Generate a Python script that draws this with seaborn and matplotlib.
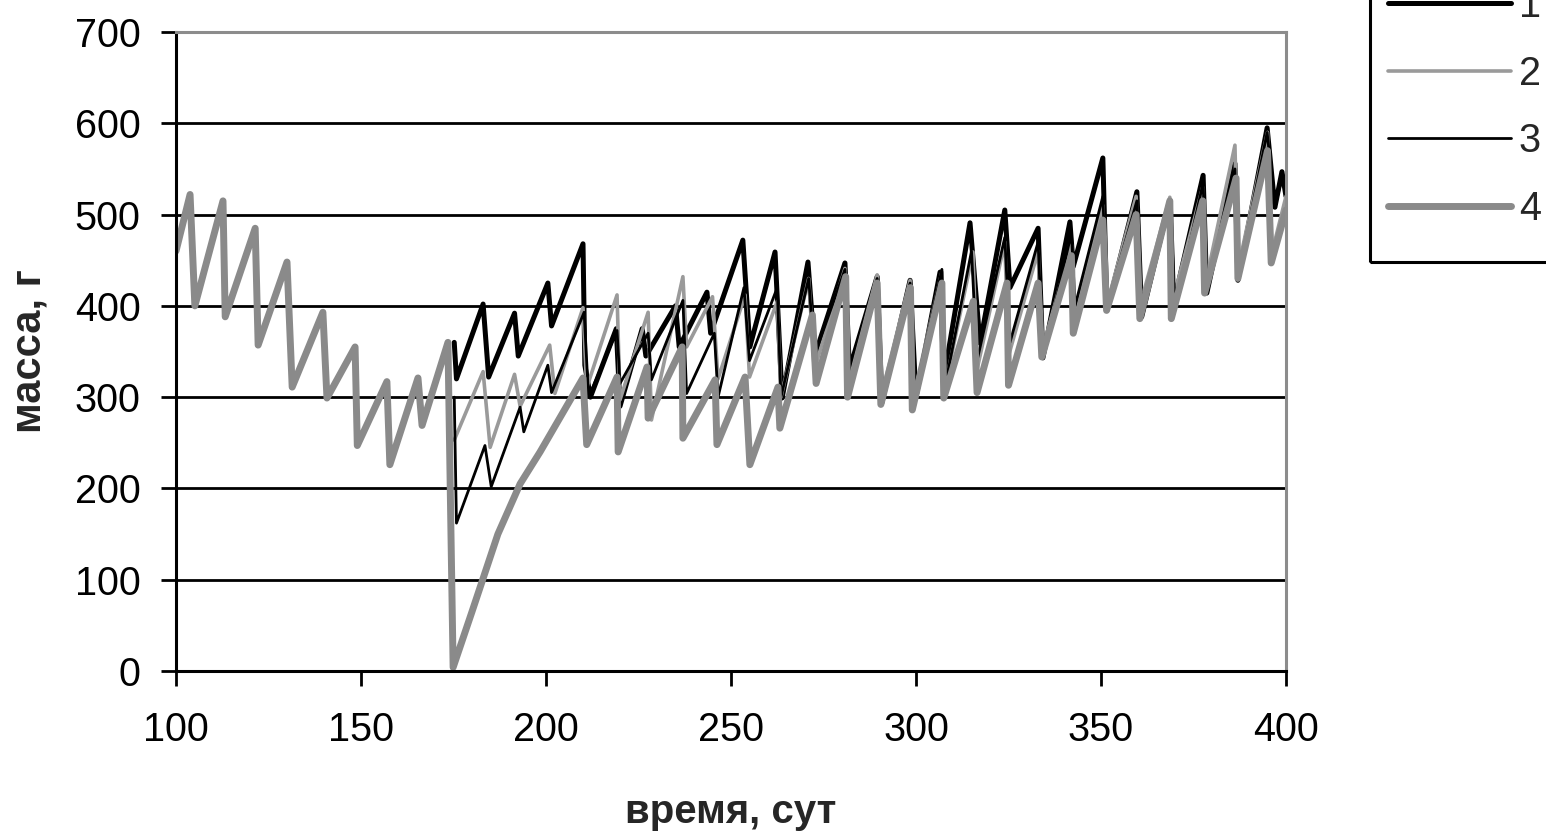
import matplotlib
matplotlib.use("Agg")
import matplotlib.pyplot as plt
from matplotlib.patches import Rectangle
import seaborn as sns
import pandas as pd

# ---------------- data (vertices) ----------------
t1 = [175.2, 175.8, 183, 184.5, 191.5, 192.5, 200.5, 201.5, 210, 210.5, 212, 219, 220, 226, 227,
      235, 236, 243.5, 244.5, 253.2, 255.1, 261.9, 263.8, 270.8, 272.7, 280.8, 282, 289.5, 290.8,
      298.4, 300, 306.5, 307.5, 314.6, 317.3, 324, 325.4, 333, 334.3, 341.6, 342.5, 350.5, 351.6,
      359.7, 361, 368.6, 369.5, 377.6, 378.6, 386.2, 387, 394.9, 397, 398.9, 400]
m1 = [360, 320, 402, 322, 392, 345, 425, 378, 468, 335, 300, 375, 290, 375, 345,
      400, 355, 415, 370, 472, 355, 459, 299, 448, 346, 447, 330, 432, 294,
      428, 300, 437, 320, 491, 359, 505, 420, 485, 343, 492, 443, 562, 395,
      525, 388, 515, 400, 543, 414, 556, 428, 595, 508, 547, 520]

t2 = [175.2, 183, 184.9, 191.5, 193, 201, 202.4, 210, 211, 219.2, 220, 227.6, 228.5, 237, 238,
      245, 246.5, 253.8, 255, 262.5, 263.5, 271, 272.5, 280.8, 281.5, 289.5, 290.5, 298.4, 299,
      307, 307.5, 315.4, 316.5, 324, 325, 333, 334, 342, 342.5, 350.5, 351.5, 359.5, 360.5,
      368.6, 369, 377.5, 378, 386.2, 387, 395, 396, 400]
m2 = [253, 328, 245, 325, 290, 357, 304, 398, 310, 412, 297, 393, 275, 432, 355,
      410, 320, 412, 322, 405, 300, 430, 330, 441, 310, 434, 300, 428, 295,
      437, 305, 459, 330, 470, 345, 460, 350, 467, 385, 510, 400, 520, 400,
      519, 400, 530, 420, 576, 440, 590, 455, 520]

t3 = [175.2, 175.8, 183.5, 185.2, 193, 194, 200.5, 201.5, 210.3, 211.5, 219.2, 220, 227.6, 228.5,
      237, 238, 245.5, 246.5, 253.5, 255, 262.5, 263.5, 271, 272.5, 280.8, 281.8, 289.5, 290.8,
      298.4, 299.5, 307, 308, 315, 316.5, 324, 325.4, 333, 334.3, 342, 343, 350.5, 351.6,
      359.7, 361, 369, 370, 377.6, 378.6, 386.2, 387, 394.9, 397, 398.9, 400]
m3 = [300, 162, 247, 202, 289, 262, 335, 305, 393, 300, 373, 315, 370, 319,
      406, 304, 370, 300, 420, 340, 420, 300, 430, 345, 440, 310, 430, 294,
      425, 300, 440, 315, 460, 340, 475, 360, 470, 343, 480, 400, 520, 400,
      515, 395, 515, 395, 535, 414, 550, 430, 590, 508, 540, 525]

t4 = [100, 103.8, 105.1, 112.7, 113.3, 121.4, 122.2, 130, 131.4, 139.7, 140.8, 148.4, 149,
      157, 157.8, 165.4, 166.5, 173.5, 174.2, 174.9, 180, 187, 193, 198.4, 210, 211, 219.2,
      219.5, 227.3, 227.6, 236.8, 237, 245.7, 246.2, 253.8, 255.1, 262.7, 263.2, 272, 273,
      281, 281.5, 289.5, 290.5, 298.5, 299, 307, 307.5, 315.5, 316.5, 324.6, 325, 333, 334,
      342, 342.5, 350.5, 351.5, 359.5, 360.5, 368.6, 369, 377.5, 378, 386.5, 387, 395, 396, 400]
m4 = [460, 522, 400, 515, 388, 485, 357, 448, 311, 393, 299, 355, 247,
      317, 226, 321, 269, 360, 180, 4, 65, 150, 205, 240, 321, 248, 322,
      240, 333, 277, 355, 255, 319, 248, 322, 226, 311, 266, 390, 315,
      432, 300, 425, 292, 420, 286, 425, 299, 405, 305, 425, 313, 425, 344,
      455, 370, 494, 395, 500, 386, 515, 386, 515, 414, 540, 430, 570, 447, 505]

labels = ["1", "2", "3", "4"]
x_ticks = [100, 150, 200, 250, 300, 350, 400]
y_ticks = [0, 100, 200, 300, 400, 500, 600, 700]

# ---------------- figure ----------------
sns.set_theme(style="white")
plt.rcParams["font.family"] = ["Liberation Sans", "DejaVu Sans"]

W, H = 1546, 835
fig = plt.figure(figsize=(W / 100, H / 100), dpi=100)
ax = fig.add_axes([176 / W, 1 - 671 / H, (1286 - 176) / W, (671 - 32) / H])

for yv in y_ticks[1:-1]:
    ax.axhline(yv, color="black", lw=2.0, zorder=1)

styles = [
    dict(color="black", lw=3.6),
    dict(color="#9a9a9a", lw=2.6),
    dict(color="black", lw=2.0),
    dict(color="#8a8a8a", lw=5.0),
]
series = [(t1, m1), (t2, m2), (t3, m3), (t4, m4)]
for (tx, my), lab, st in zip(series, labels, styles):
    df = pd.DataFrame({"t": tx, "m": my})
    sns.lineplot(data=df, x="t", y="m", ax=ax, sort=False, estimator=None,
                 label=lab, zorder=2, **st)

ax.set_xlim(100, 400)
ax.set_ylim(0, 700)
ax.set_xticks(x_ticks)
ax.set_yticks(y_ticks)
ax.tick_params(axis="both", labelsize=28.5, length=10.5, width=2, color="black",
               direction="out", labelcolor="black")
ax.tick_params(axis="x", pad=18)
ax.tick_params(axis="y", pad=15)
ax.tick_params(bottom=True, left=True)

for side in ["left", "bottom"]:
    ax.spines[side].set_color("black")
    ax.spines[side].set_linewidth(2.2)
for side in ["top", "right"]:
    ax.spines[side].set_color("#8c8c8c")
    ax.spines[side].set_linewidth(2.2)

ax.set_xlabel("время, сут", fontsize=29, fontweight="bold", labelpad=32)
ax.set_ylabel("масса, г", fontsize=30, fontweight="bold", labelpad=18)

handles, labs = ax.get_legend_handles_labels()
ax.get_legend().remove()
leg = fig.legend(handles, labs, loc="lower left",
                 bbox_to_anchor=(1388 / W, 1 - 228 / H), bbox_transform=fig.transFigure,
                 fontsize=28.5, frameon=False,
                 handlelength=3.1, handletextpad=0.2, labelspacing=0.75,
                 borderpad=0, borderaxespad=0)
fig.patches.append(Rectangle((1370 / W, 1 - 262 / H), 0.2, 0.5, transform=fig.transFigure,
                             fill=False, edgecolor="black", lw=2.2))

fig.savefig("out.png", dpi=100)
